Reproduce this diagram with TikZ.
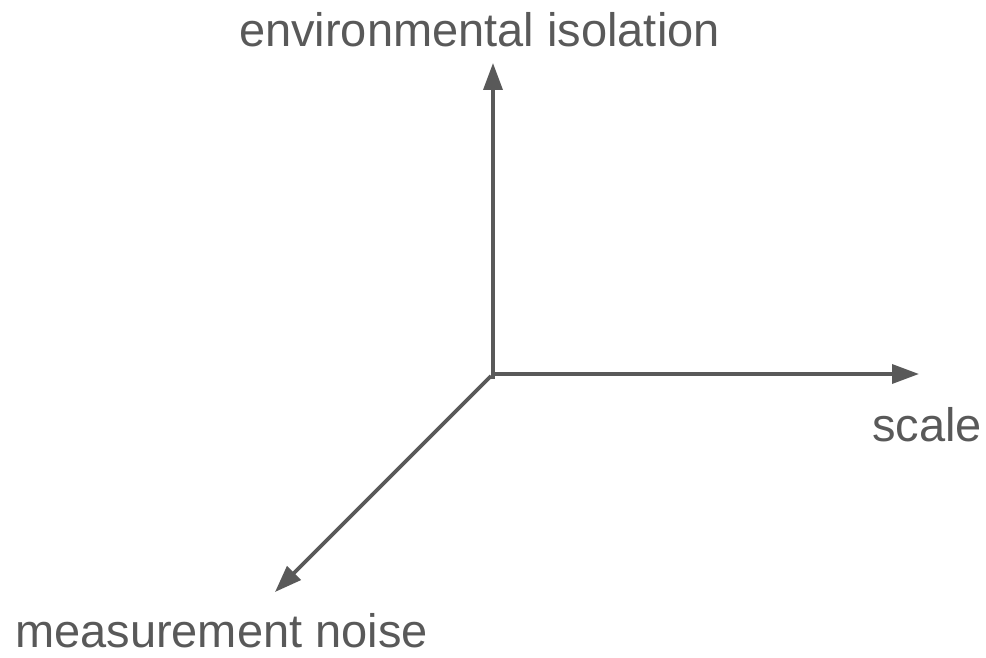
\documentclass[tikz,border=0pt]{standalone}
\usepackage{fontspec}
\setmainfont{Liberation Sans}
\usetikzlibrary{arrows.meta, positioning}
\definecolor{axisgray}{HTML}{595959}
\tikzset{
    axis/.style={draw=axisgray, line width=3.6pt, -{Triangle[length=27pt, width=19pt]}},
    axislabel/.style={text=axisgray, font=\fontsize{47}{56}\selectfont, anchor=base, inner sep=0pt, text depth=0pt}
}

\begin{document}
\begin{tikzpicture}[x=1pt, y=-1pt]
    \useasboundingbox (0,0) rectangle (986,658);
    % Oorsprong en uiteinden van de assen
    \coordinate (o) at (493,376);
    \coordinate (up) at (493,63);
    \coordinate (right) at (919,374);
    \coordinate (down) at (275,592);
    % Assen
    \draw[axis] ([yshift=-3pt]o) -- (up);
    \draw[axis] ([yshift=2pt]o) -- (right);
    \draw[axis] ([xshift=-2pt]o) -- (down);
    % Labels
    \node[axislabel] (iso) at (479.5,47) {environmental isolation};
    \node[axislabel] (scale) at (927,441) {scale};
    \node[axislabel] (noise) at (221.5,647) {measurement noise};
\end{tikzpicture}
\end{document}
